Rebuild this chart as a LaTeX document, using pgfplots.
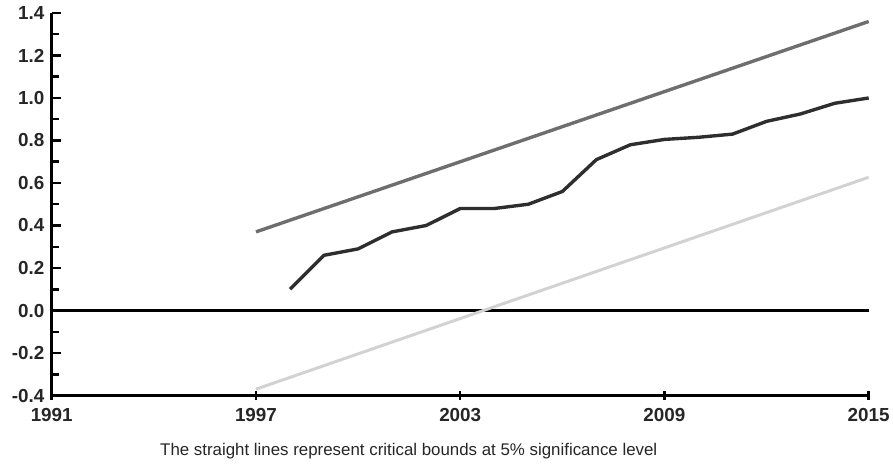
\documentclass[border=0pt]{standalone}
\usepackage{pgfplots}
\pgfplotsset{compat=1.18}
\usepackage{fontspec}
\setmainfont{Liberation Sans}
\definecolor{upper}{HTML}{6E6E6E}
\definecolor{lower}{HTML}{D2D2D2}
\definecolor{cusum}{HTML}{2E2E2E}
\begin{document}
\begin{tikzpicture}
\begin{axis}[
  scale only axis,
  width=820bp, height=384bp,
  xmin=1991, xmax=2015, ymin=-0.4, ymax=1.4,
  axis x line=bottom, axis y line=left,
  axis line style={-, line width=3bp, black},
  xtick={1991,1997,2003,2009,2015},
  xticklabels={1991,1997,2003,2009,2015},
  ytick={-0.4,-0.2,0,0.2,0.4,0.6,0.8,1.0,1.2,1.4},
  minor y tick num=1,
  y tick label style={/pgf/number format/fixed, /pgf/number format/fixed zerofill, /pgf/number format/precision=1, /pgf/number format/assume math mode=true, xshift=-4bp},
  ticklabel style={font=\bfseries\fontsize{19}{19}\selectfont, text=black!85},
  x tick style={line width=2.5bp, black},
  y tick style={line width=2.5bp, black},
  xtick align=center, ytick align=inside,
  major tick length=9bp, minor tick length=7bp,
  x tick label style={yshift=-5bp},
  clip=false,
  xlabel={The straight lines represent critical bounds at 5\% significance level},
  xlabel style={font=\fontsize{17}{17}\selectfont, text=black!85, at={(axis description cs:0.437,0)}, anchor=north, yshift=-44bp},
]
\path[draw=none] (axis cs:1989.48,1.461) rectangle (axis cs:2015.61,-0.742);
\addplot[black, line width=3bp] coordinates {(1991,0) (2015,0)};
\addplot[upper, line width=3.4bp] coordinates {(1997,0.37) (2015,1.36)};
\addplot[lower, line width=3bp] coordinates {(1997,-0.37) (2015,0.627)};
\addplot[cusum, line width=3.4bp] coordinates {
(1998,0.10) (1999,0.26) (2000,0.29) (2001,0.37) (2002,0.40) (2003,0.48)
(2004,0.48) (2005,0.50) (2006,0.56) (2007,0.71) (2008,0.78) (2009,0.805)
(2010,0.815) (2011,0.83) (2012,0.89) (2013,0.925) (2014,0.975) (2015,1.00)};
\end{axis}
\end{tikzpicture}
\end{document}
